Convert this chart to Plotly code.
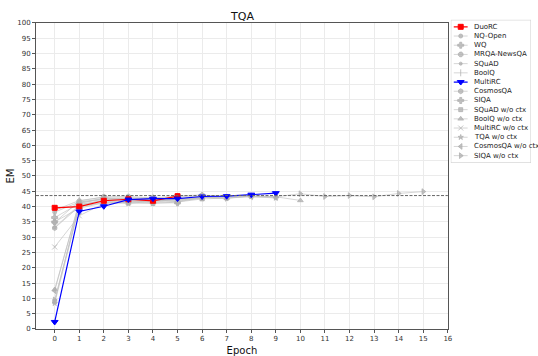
import plotly.graph_objects as go

# ---------------- data ----------------
series_names = ["DuoRC", "NQ-Open", "WQ", "MRQA-NewsQA", "SQuAD", "BoolQ", "MultiRC",
                "CosmosQA", "SIQA", "SQuAD w/o ctx", "BoolQ w/o ctx", "MultiRC w/o ctx",
                "TQA w/o ctx", "CosmosQA w/o ctx", "SIQA w/o ctx"]

duorc = [39.6, 40.0, 41.9, 42.4, 41.9, 43.4]
nq_open = [38.2, 41.5, 42.5, 43.0, 42.5, 43.2, 43.5]
wq = [36.4, 41.0, 42.8, 42.3, 42.0, 42.8]
mrqa_newsqa = [34.8, 41.8, 43.2, 43.3, 42.8, 43.5, 43.8, 43.2]
squad = [33.2, 40.5, 42.0, 42.6, 42.3, 43.0]
boolq = [38.8, 42.0, 43.0, 42.5, 43.0, 42.5, 43.0]
multirc = [2.3, 38.4, 40.1, 42.3, 42.6, 42.6, 43.3, 43.4, 43.9, 44.4]
cosmosqa = [33.0, 40.0, 41.5, 41.8, 42.0, 41.8, 42.8]
siqa = [35.0, 39.5, 41.2, 41.5, 41.3, 41.2]
squad_noctx = [9.0, 40.8, 41.8, 41.2, 41.0, 41.5, 42.5, 42.8]
boolq_noctx = [12.9, 41.2, 42.3, 41.8, 41.5, 42.0, 43.0, 42.8, 43.5, 43.2, 42.0]
multirc_noctx = [26.8, 37.0, 41.0, 41.5, 42.0, 42.3, 42.6]
tqa_noctx = [8.4, 40.0, 41.3, 41.0, 41.8, 42.5, 43.0, 43.2, 43.3, 42.8]
cosmosqa_noctx = [12.5, 41.5, 42.5, 42.0, 42.5, 41.5, 43.0, 42.8, 43.2, 43.0]
siqa_noctx = [9.5, 40.3, 42.0, 42.2, 42.0, 42.5, 43.0, 42.7, 43.5, 43.2, 44.2, 43.3, 43.6, 43.2, 44.3, 44.9]

series_values = [duorc, nq_open, wq, mrqa_newsqa, squad, boolq, multirc, cosmosqa, siqa,
                 squad_noctx, boolq_noctx, multirc_noctx, tqa_noctx, cosmosqa_noctx, siqa_noctx]

baseline_em = 43.6
x_ticks = list(range(0, 17))
y_ticks = list(range(0, 101, 5))

# ---------------- styles ----------------
GRAY = "rgba(175,175,175,0.75)"
GRAY_LINE = "rgba(190,190,190,0.7)"
styles = {
    "DuoRC": dict(color="#ff0000", line="#ff0000", symbol="square", size=5, width=1.2),
    "MultiRC": dict(color="#0000ff", line="#0000ff", symbol="triangle-down", size=6, width=1.2),
}
gray_symbols = {
    "NQ-Open": ("circle", 4), "WQ": ("cross", 5), "MRQA-NewsQA": ("octagon", 5),
    "SQuAD": ("circle", 3), "BoolQ": ("line-ns-open", 5), "CosmosQA": ("hexagon", 5),
    "SIQA": ("cross", 5), "SQuAD w/o ctx": ("square", 4), "BoolQ w/o ctx": ("triangle-up", 5),
    "MultiRC w/o ctx": ("x-thin-open", 5), "TQA w/o ctx": ("star", 4),
    "CosmosQA w/o ctx": ("triangle-left", 5), "SIQA w/o ctx": ("triangle-right", 5),
}
for n, (s, sz) in gray_symbols.items():
    styles[n] = dict(color=GRAY, line=GRAY_LINE, symbol=s, size=sz, width=0.9)

fig = go.Figure()

order = [n for n in series_names if n not in ("DuoRC", "MultiRC")] + ["DuoRC", "MultiRC"]
for name in order:
    vals = series_values[series_names.index(name)]
    st = styles[name]
    fig.add_trace(go.Scatter(
        x=list(range(len(vals))), y=vals, mode="lines+markers", name=name,
        line=dict(color=st["line"], width=st["width"]),
        marker=dict(symbol=st["symbol"], size=st["size"], color=st["color"],
                    line=dict(color=st["color"], width=1)),
        showlegend=False, xaxis="x", yaxis="y"))

# custom legend drawn on an auxiliary axis pair
for i, name in enumerate(series_names):
    st = styles[name]
    fig.add_trace(go.Scatter(x=[458, 472], y=[i, i], mode="lines",
                             line=dict(color=st["line"], width=st["width"]),
                             showlegend=False, xaxis="x2", yaxis="y2", hoverinfo="skip"))
    fig.add_trace(go.Scatter(x=[465], y=[i], mode="markers",
                             marker=dict(symbol=st["symbol"], size=st["size"], color=st["color"],
                                         line=dict(color=st["color"], width=1)),
                             showlegend=False, xaxis="x2", yaxis="y2", hoverinfo="skip"))
    fig.add_annotation(x=476, y=i, xref="x2", yref="y2", text=name, showarrow=False,
                       xanchor="left", yanchor="middle",
                       font=dict(size=7, color="#222", family="DejaVu Sans"))

fig.add_shape(type="rect", xref="x2", yref="y2", x0=455, x1=536, y0=-0.756, y1=14.79,
              line=dict(color="#cccccc", width=1), fillcolor="rgba(255,255,255,0)")

fig.add_shape(type="line", xref="x domain", yref="y", x0=0, x1=1, y0=baseline_em, y1=baseline_em,
              line=dict(color="#666666", width=1, dash="3px,1.5px"))

fig.add_annotation(x=0.416, y=1.006, xref="paper", yref="paper", text="TQA", showarrow=False,
                   xanchor="center", yanchor="middle",
                   font=dict(size=11, color="#111", family="DejaVu Sans"))

axis_common = dict(showline=True, mirror=True, linecolor="#555555", linewidth=1,
                   gridcolor="#ebebeb", gridwidth=1, ticks="outside", ticklen=3,
                   tickcolor="#555555", tickfont=dict(size=7, color="#333", family="DejaVu Sans"),
                   zeroline=False)

fig.update_layout(
    width=538, height=356,
    margin=dict(l=36, r=2, t=18, b=25, pad=0),
    paper_bgcolor="white", plot_bgcolor="white",
    xaxis=dict(domain=[0, 0.832], range=[-0.76, 16], tickvals=x_ticks, anchor="y",
               title=dict(text="Epoch", font=dict(size=10, color="#111", family="DejaVu Sans"), standoff=4),
               **axis_common),
    yaxis=dict(domain=[0, 0.984], range=[0, 100], tickvals=y_ticks, anchor="x",
               title=dict(text="EM", font=dict(size=10, color="#111", family="DejaVu Sans"), standoff=0),
               **axis_common),
    xaxis2=dict(domain=[0.838, 1.0], range=[455, 536], visible=False, anchor="y2", fixedrange=True),
    yaxis2=dict(domain=[0.534, 0.994], range=[14.79, -0.756], visible=False, anchor="x2", fixedrange=True),
    showlegend=False,
)

fig.write_html("out.html")
